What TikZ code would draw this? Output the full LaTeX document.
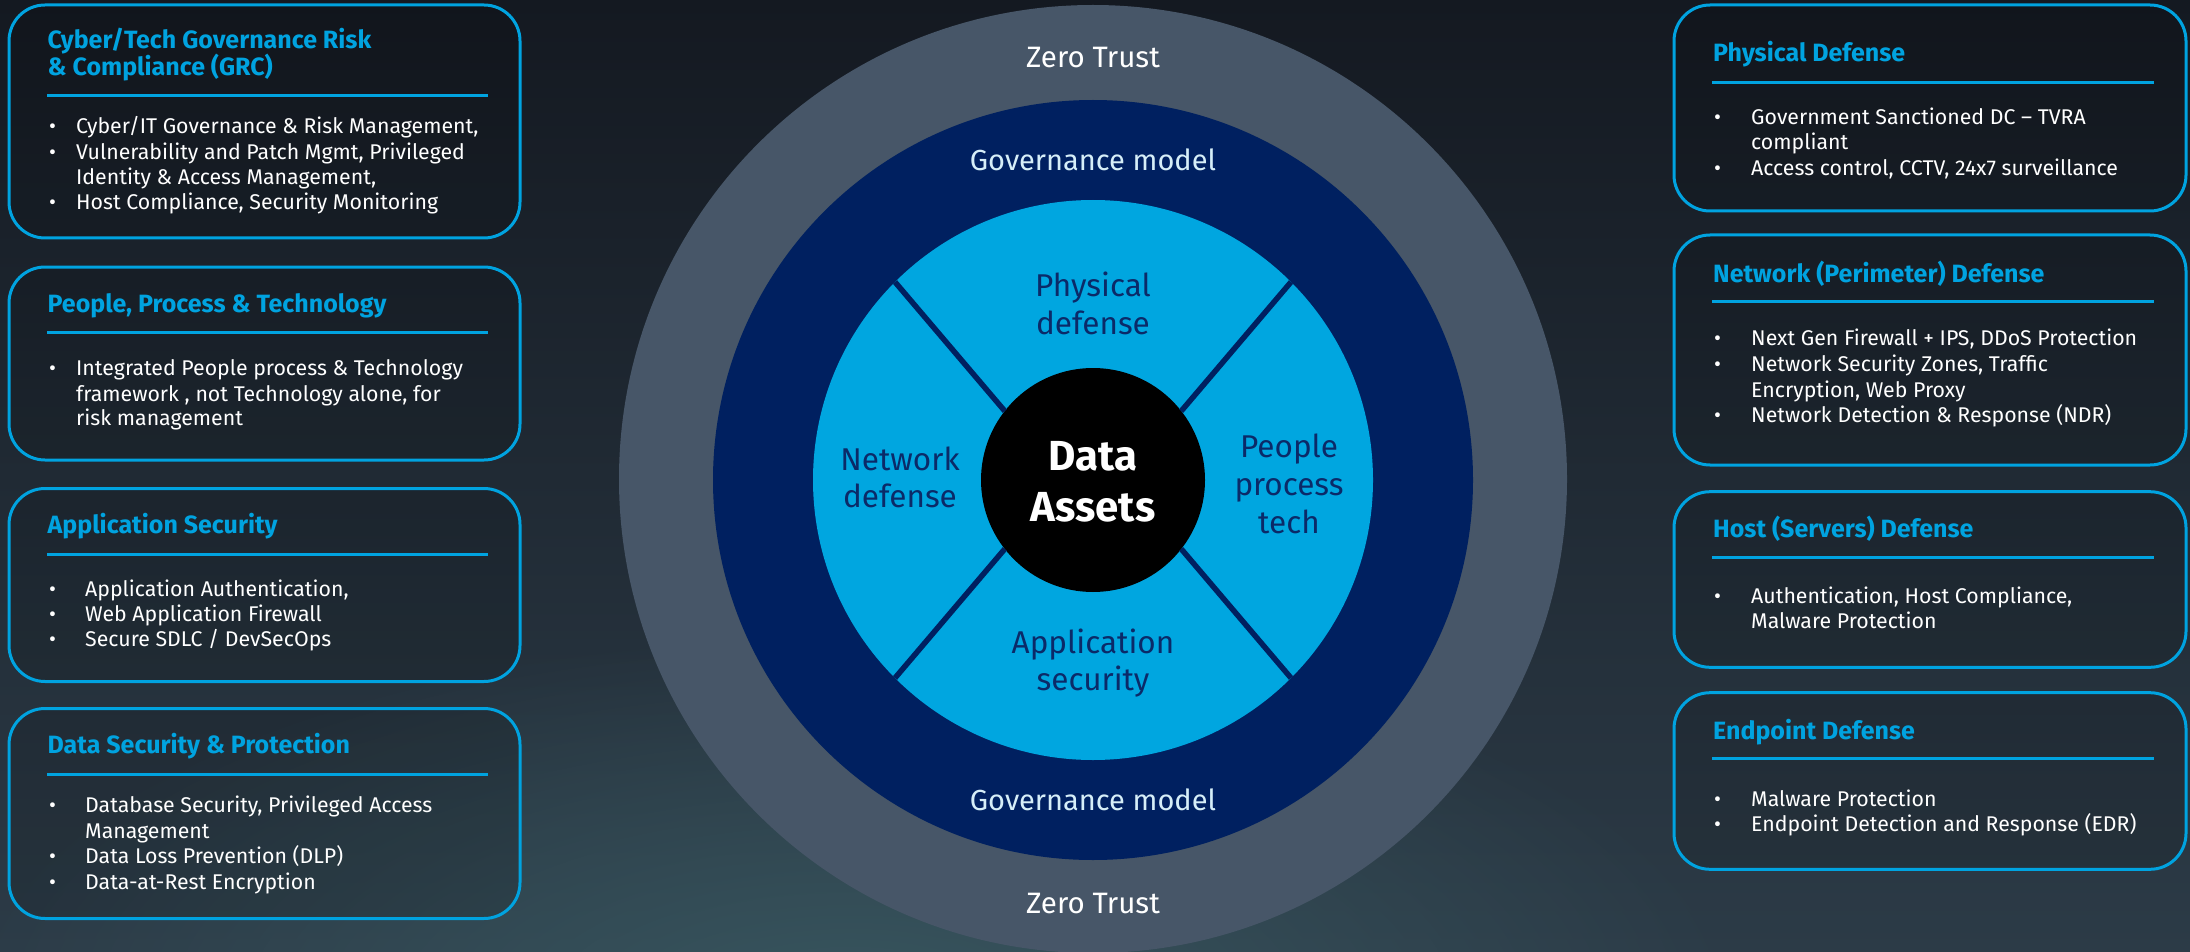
\documentclass[tikz,border=0pt]{standalone}
\usepackage{fontspec}
\setmainfont{Fira Sans}
\usetikzlibrary{fadings}
\tikzfading[name=glowfade, inner color=transparent!0, outer color=transparent!100]
\definecolor{bgtop}{HTML}{141921}
\definecolor{bgbot}{HTML}{2C3B47}
\definecolor{glowc}{HTML}{38565F}
\definecolor{cyanb}{HTML}{00A3E0}
\definecolor{ztgray}{HTML}{475668}
\definecolor{govnavy}{HTML}{002060}
\definecolor{segblue}{HTML}{00A6E0}
\definecolor{segtext}{HTML}{0B2A68}
\definecolor{govtext}{HTML}{D6EEF8}
\tikzset{
  panel/.style={draw=cyanb, line width=3pt, rounded corners=36pt, fill=black, fill opacity=0.12, anchor=north west, inner sep=0pt, outer sep=0pt},
  sepline/.style={draw=cyanb, line width=3pt},
  ptitle/.style={anchor=base west, inner sep=0pt, text=cyanb, font=\fontsize{25}{28}\selectfont\bfseries},
  btxt/.style={anchor=base west, inner sep=0pt, text=white, font=\fontsize{21.3}{25}\selectfont},
  ring/.style={circle, inner sep=0pt, outer sep=0pt},
  seglbl/.style={anchor=base, inner sep=0pt, text=segtext, font=\fontsize{31.5}{35}\selectfont},
  govlbl/.style={anchor=base, inner sep=0pt, text=govtext, font=\fontsize{29}{32}\selectfont},
  ztlbl/.style={anchor=base, inner sep=0pt, text=white, font=\fontsize{29.5}{32}\selectfont},
  dalbl/.style={anchor=base, inner sep=0pt, text=white, font=\fontsize{42}{46}\selectfont\bfseries},
  divline/.style={draw=govnavy, line width=5.5pt}
}
\newcommand\bitem[5]{%
  \node[btxt] (#1b) at (#2,#4) {\textbullet};
  \node[btxt] (#1) at (#3,#4) {#5};}
\newcommand\contl[4]{\node[btxt] (#1) at (#2,#3) {#4};}
\begin{document}
\begin{tikzpicture}[x=1pt,y=-1pt]
\useasboundingbox (0,0) rectangle (2190,952);
\begin{scope}
\clip (0,0) rectangle (2190,952);
\shade[top color=bgtop, bottom color=bgbot] (0,0) rectangle (2190,952);
\fill[glowc, path fading=glowfade] (850,1010) ellipse (900pt and 380pt);
\end{scope}

% ---------- rings ----------
\node[ring, fill=ztgray, minimum size=948pt] (zt) at (1093,479) {};
\node[ring, fill=govnavy, minimum size=760pt] (gov) at (1093,480) {};
\node[ring, fill=segblue, minimum size=560pt] (seg) at (1093,480) {};
\node[ring, fill=black, minimum size=224pt] (da) at (1093,480) {};
\draw[divline] (da.142) -- (seg.135);
\draw[divline] (da.38) -- (seg.45);
\draw[divline] (da.218) -- (seg.225);
\draw[divline] (da.322) -- (seg.315);

\node[ztlbl] (zt1) at (1093,67.7) {Zero Trust};
\node[ztlbl] (zt2) at (1093,913) {Zero Trust};
\node[govlbl] (gv1) at (1093,170.7) {Governance model};
\node[govlbl] (gv2) at (1093,810) {Governance model};
\node[seglbl] (ph1) at (1093,296.7) {Physical};
\node[seglbl] (ph2) at (1093,334) {defense};
\node[seglbl] (nw1) at (900,470) {Network};
\node[seglbl] (nw2) at (900,507) {defense};
\node[seglbl] (pp1) at (1289,457) {People};
\node[seglbl] (pp2) at (1289,495) {process};
\node[seglbl] (pp3) at (1289,533) {tech};
\node[seglbl] (ap1) at (1093,653) {Application};
\node[seglbl] (ap2) at (1093,690.7) {security};
\node[dalbl] (dt1) at (1093,470) {Data};
\node[dalbl] (dt2) at (1093,521.7) {Assets};

% ---------- left panels ----------
\node[panel, minimum width=511pt, minimum height=233pt] (L1) at (9,5) {};
\node[ptitle] (L1t1) at (47.5,48.3) {Cyber/Tech Governance Risk};
\node[ptitle] (L1t2) at (47.5,76) {\& Compliance (GRC)};
\draw[sepline] (47,96) -- (488,96);
\bitem{L1a}{49}{76}{133.3}{Cyber/IT Governance \& Risk Management,}
\bitem{L1c}{49}{76}{159.3}{Vulnerability and Patch Mgmt, Privileged}
\contl{L1d}{76}{184.3}{Identity \& Access Management,}
\bitem{L1e}{49}{76}{209.3}{Host Compliance, Security Monitoring}

\node[panel, minimum width=511pt, minimum height=193pt] (L2) at (9,267) {};
\node[ptitle] (L2t) at (47.5,312.7) {People, Process \& Technology};
\draw[sepline] (47,332.7) -- (488,332.7);
\bitem{L2a}{49}{76}{375}{Integrated People process \& Technology}
\contl{L2b}{76}{401}{framework , not Technology alone, for}
\contl{L2c}{76}{425.7}{risk management}

\node[panel, minimum width=511pt, minimum height=193pt] (L3) at (9,488.5) {};
\node[ptitle] (L3t) at (47.5,533.3) {Application Security};
\draw[sepline] (47,554) -- (488,554);
\bitem{L3a}{49}{85}{596}{Application Authentication,}
\bitem{L3b}{49}{85}{621.7}{Web Application Firewall}
\bitem{L3c}{49}{85}{646.7}{Secure SDLC / DevSecOps}

\node[panel, minimum width=511pt, minimum height=210pt] (L4) at (9,708.5) {};
\node[ptitle] (L4t) at (47.5,753.3) {Data Security \& Protection};
\draw[sepline] (47,774.3) -- (488,774.3);
\bitem{L4a}{49}{85}{812.7}{Database Security, Privileged Access}
\contl{L4b}{85}{838.3}{Management}
\bitem{L4c}{49}{85}{863.3}{Data Loss Prevention (DLP)}
\bitem{L4d}{49}{85}{889.3}{Data-at-Rest Encryption}

% ---------- right panels ----------
\node[panel, minimum width=512pt, minimum height=206pt] (R1) at (1674,5) {};
\node[ptitle] (R1t) at (1713,61.7) {Physical Defense};
\draw[sepline] (1712,82.7) -- (2154,82.7);
\bitem{R1a}{1714}{1751}{125}{Government Sanctioned DC – TVRA}
\contl{R1b}{1751}{150}{compliant}
\bitem{R1c}{1714}{1751}{175.7}{Access control, CCTV, 24x7 surveillance}

\node[panel, minimum width=512pt, minimum height=230pt] (R2) at (1674,235) {};
\node[ptitle] (R2t) at (1713,282.3) {Network (Perimeter) Defense};
\draw[sepline] (1712,301.7) -- (2154,301.7);
\bitem{R2a}{1714}{1751}{345}{Next Gen Firewall + IPS, DDoS Protection}
\bitem{R2b}{1714}{1751}{371.7}{Network Security Zones, Traffic}
\contl{R2c}{1751}{397.7}{Encryption, Web Proxy}
\bitem{R2d}{1714}{1751}{422.7}{Network Detection \& Response (NDR)}

\node[panel, minimum width=512pt, minimum height=175.6pt] (R3) at (1674,491.7) {};
\node[ptitle] (R3t) at (1713,537.3) {Host (Servers) Defense};
\draw[sepline] (1712,557.7) -- (2154,557.7);
\bitem{R3a}{1714}{1751}{603.3}{Authentication, Host Compliance,}
\contl{R3b}{1751}{628.3}{Malware Protection}

\node[panel, minimum width=512pt, minimum height=176.6pt] (R4) at (1674,692.7) {};
\node[ptitle] (R4t) at (1713,739.3) {Endpoint Defense};
\draw[sepline] (1712,758.7) -- (2154,758.7);
\bitem{R4a}{1714}{1751}{806}{Malware Protection}
\bitem{R4b}{1714}{1751}{831}{Endpoint Detection and Response (EDR)}
\end{tikzpicture}
\end{document}
